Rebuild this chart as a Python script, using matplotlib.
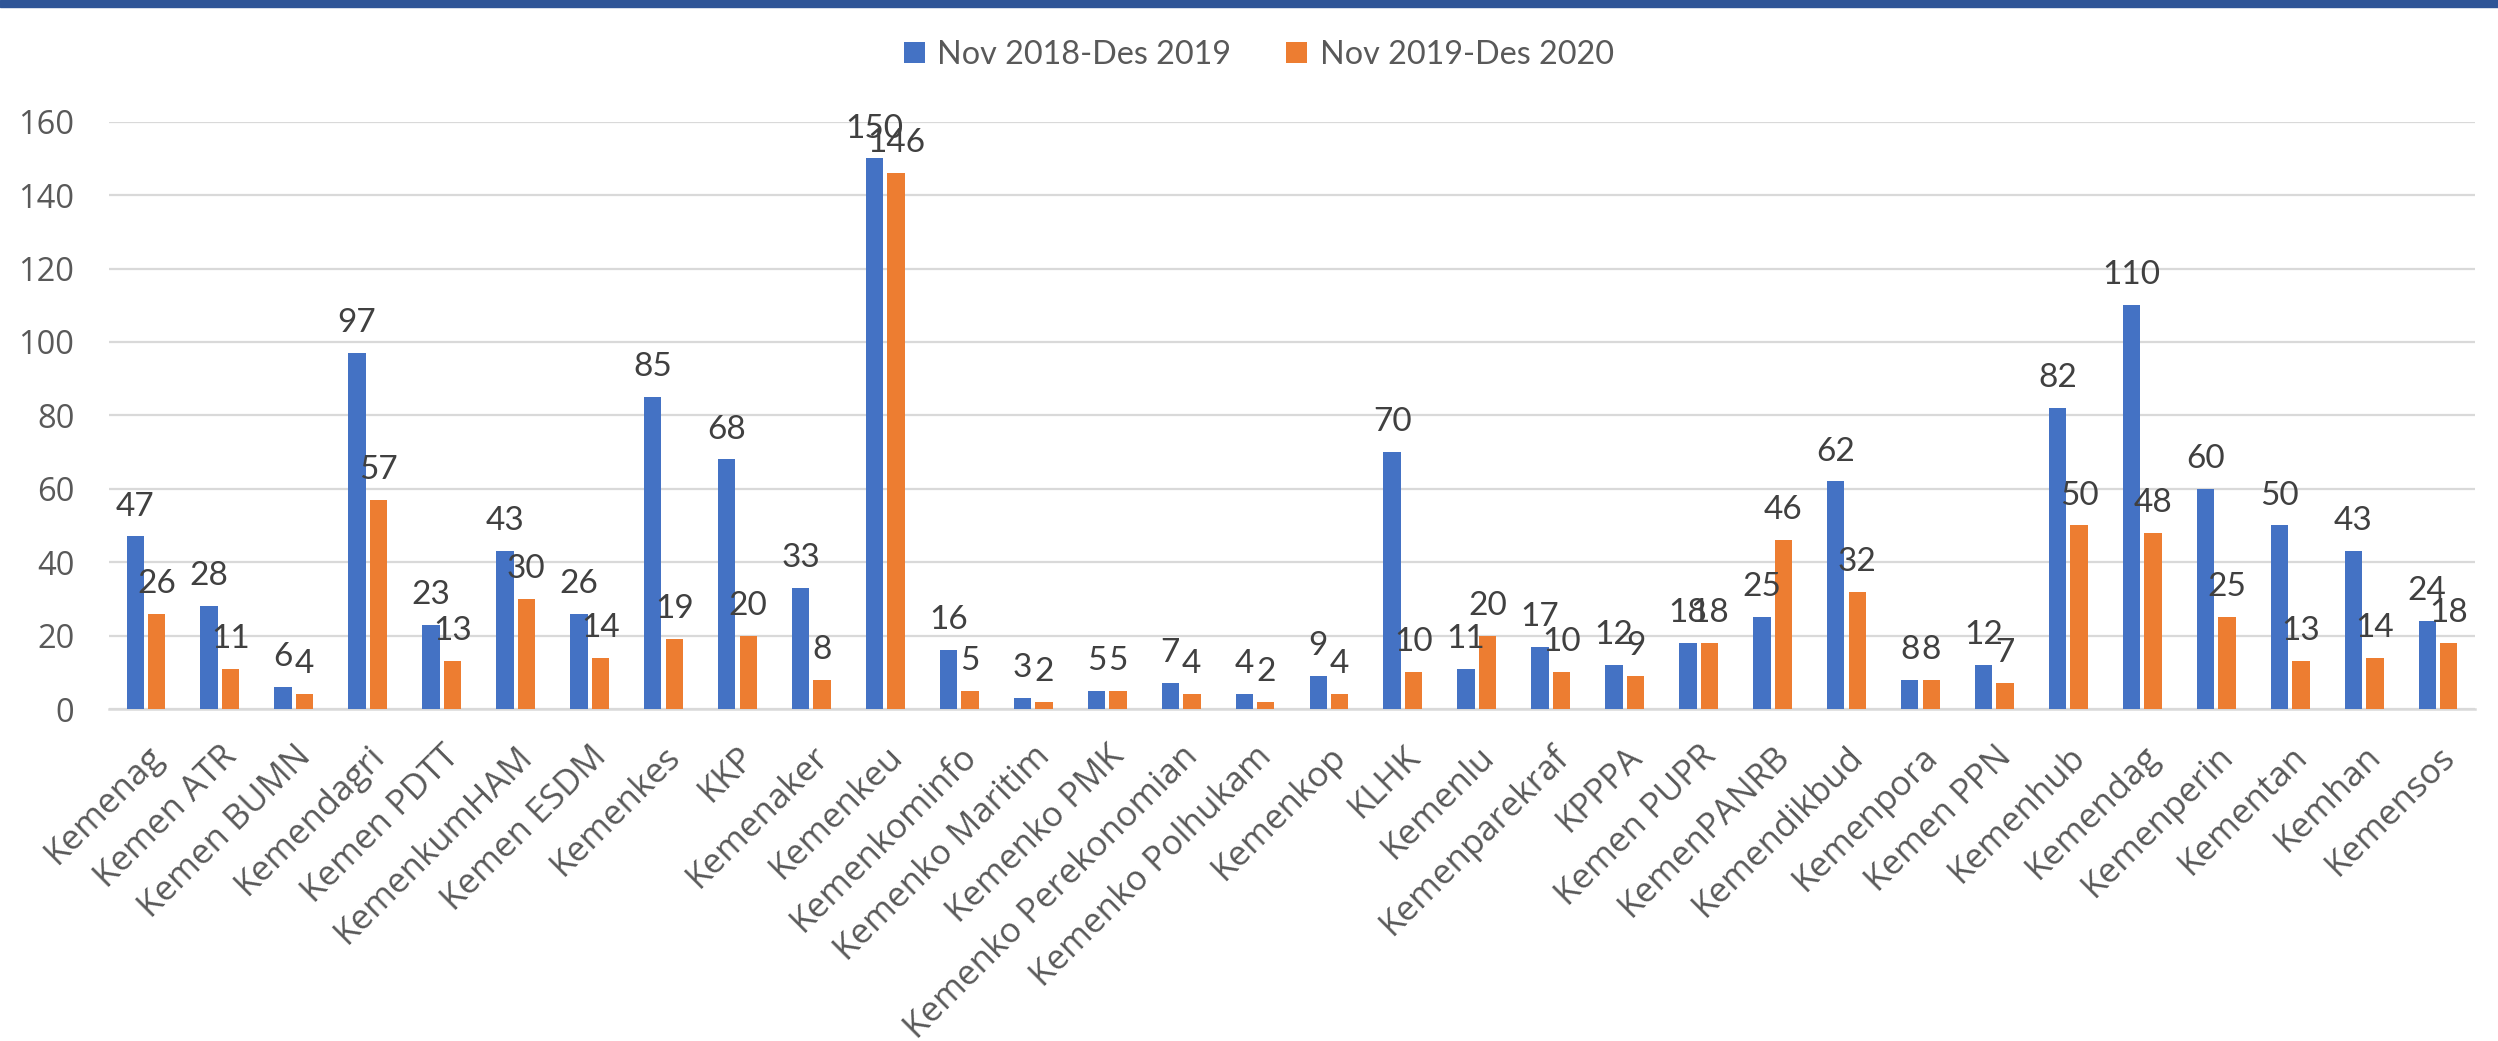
import matplotlib.pyplot as plt
import numpy as np
from matplotlib.patches import Rectangle

# Kategori (kementerian)
kategori = ['Kemenag', 'Kemen ATR', 'Kemen BUMN', 'Kemendagri', 'Kemen PDTT',
            'KemenkumHAM', 'Kemen ESDM', 'Kemenkes', 'KKP', 'Kemenaker',
            'Kemenkeu', 'Kemenkominfo', 'Kemenko Maritim', 'Kemenko PMK',
            'Kemenko Perekonomian', 'Kemenko Polhukam', 'Kemenkop', 'KLHK',
            'Kemenlu', 'Kemenparekraf', 'KPPPA', 'Kemen PUPR', 'KemenPANRB',
            'Kemendikbud', 'Kemenpora', 'Kemen PPN', 'Kemenhub', 'Kemendag',
            'Kemenperin', 'Kementan', 'Kemhan', 'Kemensos']

# Nilai per periode
nov18_des19 = [47, 28, 6, 97, 23, 43, 26, 85, 68, 33, 150, 16, 3, 5, 7, 4,
               9, 70, 11, 17, 12, 18, 25, 62, 8, 12, 82, 110, 60, 50, 43, 24]
nov19_des20 = [26, 11, 4, 57, 13, 30, 14, 19, 20, 8, 146, 5, 2, 5, 4, 2,
               4, 10, 20, 10, 9, 18, 46, 32, 8, 7, 50, 48, 25, 13, 14, 18]

label_seri = ['Nov 2018-Des 2019', 'Nov 2019-Des 2020']
yticks = [0, 20, 40, 60, 80, 100, 120, 140, 160]

biru = '#4472C4'
oranye = '#ED7D31'
abu_teks = '#595959'
abu_label = '#404040'
abu_grid = '#D9D9D9'

fig = plt.figure(figsize=(24.98, 10.41), dpi=100)
ax = fig.add_axes([109 / 2498, 1 - 709 / 1041, (2475 - 109) / 2498, (709 - 121.7) / 1041])

# pita biru di atas gambar
fig.patches.append(Rectangle((0, 1 - 7 / 1041), 1, 7 / 1041, transform=fig.transFigure,
                             color='#2F5597', zorder=5))

x = np.arange(len(kategori))
lebar = 0.235
geser = 0.145
bar1 = ax.bar(x - geser, nov18_des19, lebar, color=biru, label=label_seri[0], zorder=3)
bar2 = ax.bar(x + geser, nov19_des20, lebar, color=oranye, label=label_seri[1], zorder=3)

# Label data di atas batang
for bars, nilai in [(bar1, nov18_des19), (bar2, nov19_des20)]:
    for b, v in zip(bars, nilai):
        ax.annotate(str(v), (b.get_x() + b.get_width() / 2, v),
                    xytext=(0, 15), textcoords='offset points',
                    ha='center', va='baseline', fontsize=24,
                    family='Lato', color=abu_label, zorder=4)

ax.set_xlim(-0.5, len(kategori) - 0.5)
ax.set_ylim(0, 160)
ax.set_yticks(yticks)
ax.yaxis.grid(True, color=abu_grid, linewidth=1.6, zorder=0)
ax.set_axisbelow(True)
for s in ['top', 'right', 'left']:
    ax.spines[s].set_visible(False)
ax.spines['bottom'].set_color(abu_grid)
ax.spines['bottom'].set_linewidth(1.8)

ax.tick_params(axis='y', length=0, pad=25, labelsize=23.5, labelcolor=abu_teks)
ax.tick_params(axis='x', length=0, pad=22)
for t in ax.get_yticklabels():
    t.set_family('Open Sans')

ax.set_xticks(x)
ax.set_xticklabels(kategori, rotation=45, ha='right', rotation_mode='anchor',
                   fontsize=25, color=abu_teks, family='Open Sans')

leg = fig.legend(loc='center', bbox_to_anchor=(0.504, 1 - 55 / 1041), ncol=2,
                 frameon=False, prop={'family': 'Lato', 'size': 23.3},
                 handlelength=0.62, handleheight=0.62, handletextpad=0.4,
                 columnspacing=1.7)
for t in leg.get_texts():
    t.set_color(abu_teks)

fig.savefig('out.png', dpi=100)
